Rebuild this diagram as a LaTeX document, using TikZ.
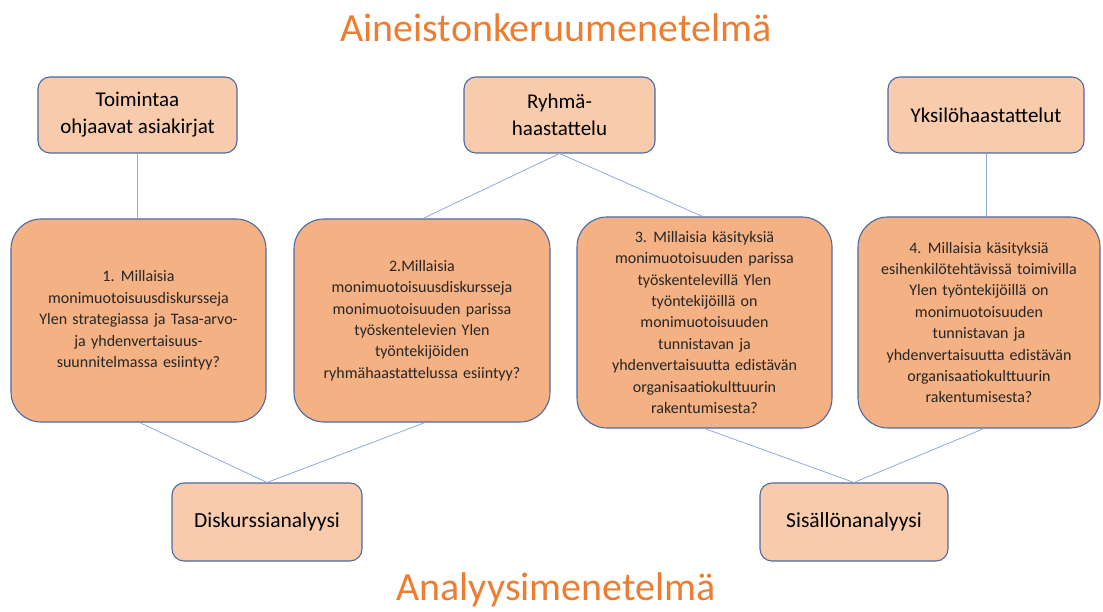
\documentclass[tikz,border=0pt]{standalone}
\usepackage{fontspec}
\setmainfont{Carlito}
\newfontfamily\qfont{Carlito}[WordSpace=1.45]
\definecolor{topfill}{HTML}{F8CBAD}
\definecolor{qfill}{HTML}{F4B183}
\definecolor{edge}{HTML}{4A6BA3}
\definecolor{conn}{HTML}{8FAADC}
\definecolor{ttl}{HTML}{ED7D31}
\tikzset{
  topbox/.style={draw=edge, line width=1.1pt, fill=topfill, rounded corners=12pt, align=center, inner sep=0pt,
    font=\fontsize{21}{27}\selectfont, text=black},
  qbox/.style={draw=edge, line width=1.1pt, fill=qfill, rounded corners=30pt, align=center, inner sep=0pt,
    font=\qfont\fontsize{16}{21.4}\selectfont, text=black!85},
  abox/.style={draw=edge, line width=1.1pt, fill=topfill, rounded corners=12pt, align=center, inner sep=0pt,
    font=\fontsize{21.5}{24}\selectfont, text=black},
  link/.style={draw=conn, line width=0.8pt},
  ttlstyle/.style={text=ttl, font=\fontsize{40}{46}\selectfont, inner sep=0pt}
}
\begin{document}
\begin{tikzpicture}[x=1pt,y=-1pt]
\useasboundingbox (0,0) rectangle (1103,612);
\node[ttlstyle] (t1) at (556,28) {Aineistonkeruumenetelmä};
\node[ttlstyle] (t2) at (556,590) {Analyysimenetelmä};

\node[topbox, minimum width=199pt, minimum height=76pt] (a) at (137.5,115) {Toimintaa\\ohjaavat asiakirjat};
\node[topbox, minimum width=191pt, minimum height=76pt] (b) at (559.5,115) {Ryhmä-\\haastattelu};
\node[topbox, minimum width=196pt, minimum height=76pt] (c) at (986,115) {Yksilöhaastattelut};

\node[qbox, minimum width=255pt, minimum height=203pt] (q1) at (138.5,320.5) {1. Millaisia\\monimuotoisuusdiskursseja\\Ylen strategiassa ja Tasa-arvo-\\ja yhdenvertaisuus-\\suunnitelmassa esiintyy?};
\node[qbox, minimum width=256pt, minimum height=203pt] (q2) at (422,320.5) {2.Millaisia\\monimuotoisuusdiskursseja\\monimuotoisuuden parissa\\työskentelevien Ylen\\työntekijöiden\\ryhmähaastattelussa esiintyy?};
\node[qbox, minimum width=255pt, minimum height=211pt] (q3) at (704.5,322.5) {3. Millaisia käsityksiä\\monimuotoisuuden parissa\\työskentelevillä Ylen\\työntekijöillä on\\monimuotoisuuden\\tunnistavan ja\\yhdenvertaisuutta edistävän\\organisaatiokulttuurin\\rakentumisesta?};
\node[qbox, minimum width=242pt, minimum height=211pt] (q4) at (979,322.5) {4. Millaisia käsityksiä\\esihenkilötehtävissä toimivilla\\Ylen työntekijöillä on\\monimuotoisuuden\\tunnistavan ja\\yhdenvertaisuutta edistävän\\organisaatiokulttuurin\\rakentumisesta?};

\node[abox, minimum width=190pt, minimum height=78pt] (d) at (267,522) {Diskurssianalyysi};
\node[abox, minimum width=188pt, minimum height=78pt] (s) at (854,522) {Sisällönanalyysi};

\draw[link] (a.south) -- (q1.north -| a.south);
\draw[link] (b.south) -- ([xshift=1pt]q2.north);
\draw[link] (b.south) -- ([xshift=-2pt]q3.north);
\draw[link] (c.south) -- (q4.north -| c.south);
\draw[link] ([xshift=1pt]q1.south) -- (d.north);
\draw[link] ([xshift=3pt]q2.south) -- (d.north);
\draw[link] (q3.south) -- (s.north);
\draw[link] ([xshift=5pt]q4.south) -- (s.north);
\end{tikzpicture}
\end{document}
